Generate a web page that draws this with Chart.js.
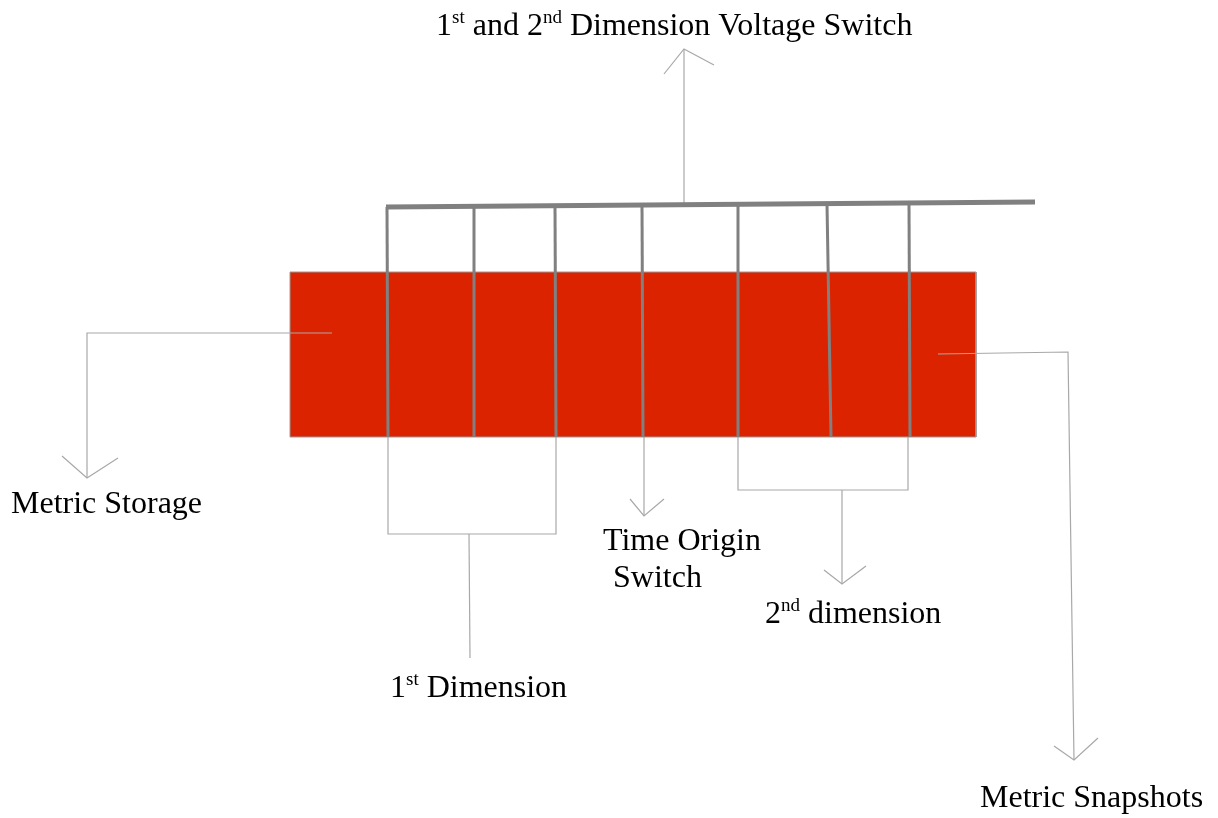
<!DOCTYPE html>
<html>
<head>
<meta charset="utf-8">
<script src="https://cdn.jsdelivr.net/npm/chart.js@4.4.1/dist/chart.umd.min.js"></script>
<style>
  html, body { margin: 0; padding: 0; background: #fff; overflow: hidden; }
  #wrap { width: 1218px; height: 818px; }
</style>
</head>
<body>
<div id="wrap"><canvas id="diagram"></canvas></div>
<script>
// diagram values, in page units (x right, y down)
const blockLeft = 290, blockRight = 976, blockTop = 272, blockBottom = 437;

// the switch bus and the seven contacts hanging from it
const busLine = [[386, 207], [1035, 202]];
const contactTopX = [387, 474, 555, 642, 738, 827, 909];
const contactTopY = [207, 206, 206, 205, 204, 204, 203];
const contactBottomX = [388, 474, 556, 643, 738, 831, 910];

// thin connector paths
const connectors = [
  [[684, 204], [684, 49]],                                  // to voltage switch
  [[332, 333], [87, 333], [87, 478]],                       // to metric storage
  [[938, 354], [1068, 352], [1074, 760]],                   // to metric snapshots
  [[388, 437], [388, 534], [556, 534], [556, 437]],         // 1st dimension bracket
  [[469, 534], [470, 658]],
  [[644, 437], [644, 516]],                                 // time origin switch
  [[738, 437], [738, 490], [908, 490], [908, 437]],         // 2nd dimension bracket
  [[842, 490], [842, 584]]
];

// arrow heads: wing, tip, wing
const arrowHeads = [
  [[664, 74], [684, 49], [714, 65]],
  [[62, 456], [87, 478], [118, 458]],
  [[1054, 746], [1074, 760], [1098, 738]],
  [[630, 499], [644, 516], [664, 499]],
  [[824, 570], [842, 584], [866, 566]]
];

// texts: {..} marks a superscript; x,y is the left end of the baseline
const labelText = ['1{st} and 2{nd} Dimension Voltage Switch', 'Metric Storage', 'Time Origin',
  'Switch', '2{nd} dimension', '1{st} Dimension', 'Metric Snapshots'];
const labelX = [436, 11, 603, 613, 765, 390, 980];
const labelY = [35, 513, 550, 587, 623, 697, 807];

const pts = arr => arr.map(p => ({ x: p[0], y: p[1] }));

// higher order is drawn first, so the block goes under everything
const datasets = [];
datasets.push({
  data: pts([[blockLeft, blockTop], [blockRight, blockTop]]),
  fill: { value: blockBottom },
  backgroundColor: '#dc2300',
  borderWidth: 0,
  order: 10
});
datasets.push({
  data: pts([[blockLeft, blockTop], [blockRight, blockTop], [blockRight, blockBottom],
    [blockLeft, blockBottom], [blockLeft, blockTop]]),
  borderColor: '#9a9a9a',
  borderWidth: 1,
  order: 9
});
connectors.concat(arrowHeads).forEach(path => {
  datasets.push({ data: pts(path), borderColor: '#a8a8a8', borderWidth: 1.2, order: 5 });
});
for (let i = 0; i < contactTopX.length; i++) {
  datasets.push({
    data: pts([[contactTopX[i], contactTopY[i]], [contactBottomX[i], blockBottom]]),
    borderColor: '#808080',
    borderWidth: 3,
    order: 1
  });
}
datasets.push({ data: pts(busLine), borderColor: '#808080', borderWidth: 5, order: 0 });

const labelsPlugin = {
  id: 'labels',
  afterDraw(chart) {
    const ctx = chart.ctx;
    const xs = chart.scales.x, ys = chart.scales.y;
    ctx.save();
    ctx.fillStyle = '#000';
    ctx.textBaseline = 'alphabetic';
    labelText.forEach((txt, i) => {
      let x = xs.getPixelForValue(labelX[i]);
      const y = ys.getPixelForValue(labelY[i]);
      txt.split(/(\{[^}]*\})/).forEach(part => {
        if (!part) return;
        const sup = part[0] === '{';
        const s = sup ? part.slice(1, -1) : part;
        ctx.font = sup ? '19px "Liberation Serif"' : '32px "Liberation Serif"';
        ctx.fillText(s, x, sup ? y - 12 : y);
        x += ctx.measureText(s).width;
      });
    });
    ctx.restore();
  }
};

new Chart(document.getElementById('diagram'), {
  type: 'line',
  data: { datasets },
  options: {
    responsive: true,
    maintainAspectRatio: false,
    animation: false,
    events: [],
    layout: { padding: 0 },
    elements: { point: { radius: 0 }, line: { tension: 0 } },
    plugins: { legend: { display: false }, tooltip: { enabled: false } },
    scales: {
      x: { type: 'linear', min: 0, max: 1218, display: false },
      y: { type: 'linear', min: 0, max: 818, reverse: true, display: false }
    }
  },
  plugins: [labelsPlugin]
});
</script>
</body>
</html>
